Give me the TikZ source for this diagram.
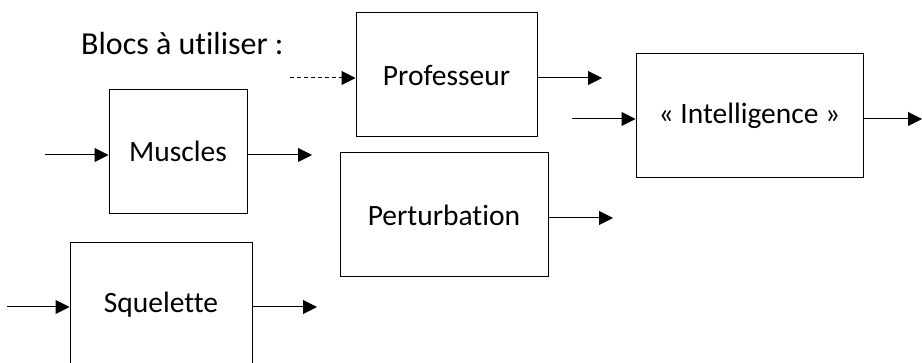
\documentclass[tikz,border=0pt]{standalone}
\usepackage{fontspec}
\setmainfont{Carlito}[Ligatures={NoCommon,NoRequired,NoContextual}]
\usetikzlibrary{arrows.meta}
\begin{document}
\begin{tikzpicture}[x=1pt,y=-1pt,
  blk/.style={draw,line width=1pt,inner sep=0pt,minimum height=124pt,font=\fontsize{29.5}{36}\selectfont},
  arr/.style={line width=1pt,-{Triangle[length=14pt,width=14pt]}},
  darr/.style={arr,dash pattern=on 4pt off 3pt}]
\useasboundingbox (0,0) rectangle (922,363);
\node[anchor=base west,font=\fontsize{32}{38}\selectfont,inner sep=0pt] (titre) at (81,55) {Blocs à utiliser :};
\node[blk,minimum width=138pt] (mus) at (178,151.5) {Muscles};
\node[blk,minimum width=181pt] (prof) at (446.5,75) {Professeur};
\node[blk,minimum width=227pt] (int) at (749.5,115.5) {« Intelligence »};
\node[blk,minimum width=208pt] (pert) at (444,215) {Perturbation};
\node[blk,minimum width=182pt] (sq) at (161,305) {Squelette};
% free ends
\coordinate (musin) at (45,155);
\coordinate (musout) at (312,155);
\coordinate (profin) at (290,78);
\coordinate (profout) at (602,78);
\coordinate (intin) at (572,119);
\coordinate (intout) at (922,119);
\coordinate (pertout) at (613,218);
\coordinate (sqin) at (7,307);
\coordinate (sqout) at (317,307);
\draw[arr] (musin) -- (mus.west |- musin);
\draw[arr] (mus.east |- musout) -- (musout);
\draw[darr] (profin) -- (prof.west |- profin);
\draw[arr] (prof.east |- profout) -- (profout);
\draw[arr] (intin) -- (int.west |- intin);
\draw[arr] (int.east |- intout) -- (intout);
\draw[arr] (pert.east |- pertout) -- (pertout);
\draw[arr] (sqin) -- (sq.west |- sqin);
\draw[arr] (sq.east |- sqout) -- (sqout);
\end{tikzpicture}
\end{document}
